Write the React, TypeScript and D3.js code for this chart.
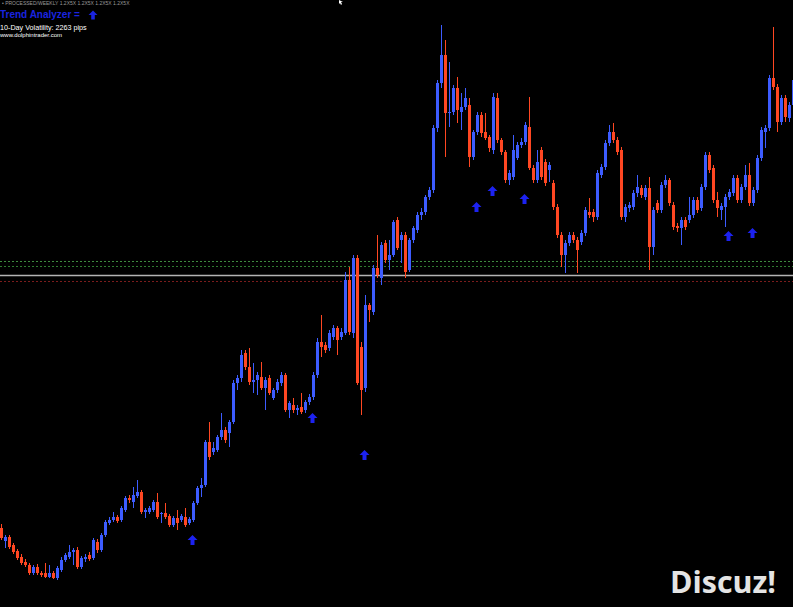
import React from "react";
import * as d3 from "d3";

// Candle data (price units, arbitrary points)
const opens = [
  72,59,63,55,49,43,38,35,27,33,
  27,27,23,27,22,30,40,43,48,50,
  33,41,45,42,58,50,65,77,80,83,
  80,90,102,98,104,108,88,88,90,98,
  86,87,84,75,82,80,83,77,80,97,
  112,115,158,148,150,163,170,167,178,217,
  222,247,233,218,220,223,212,222,202,210,
  217,225,190,195,190,193,190,198,203,225,
  258,255,252,263,272,263,267,320,267,342,
  253,212,295,288,332,322,357,340,345,380,
  360,365,330,360,370,385,388,403,410,472,
  517,545,487,488,512,488,493,495,443,468,
  485,468,463,450,502,460,448,420,423,442,
  455,458,473,432,420,450,438,430,417,393,
  365,345,357,365,360,358,367,388,388,383,
  425,433,457,468,460,450,383,392,393,407,
  412,403,412,353,397,390,415,420,395,374,
  372,380,380,385,400,392,413,445,432,400,
  390,393,403,407,422,400,413,425,397,410,
  442,468,472,522,513,478,502,482,495,
];
const highs = [
  76,65,65,57,51,46,41,37,35,36,
  29,37,35,29,34,43,47,55,52,53,
  44,46,48,62,61,67,80,83,88,85,
  94,104,105,113,120,110,92,94,100,107,
  88,97,86,84,90,86,92,83,99,114,
  122,160,178,158,165,187,173,180,220,225,
  250,250,252,237,228,238,223,225,212,221,
  228,227,199,202,195,207,200,206,228,262,
  285,258,270,275,274,272,328,333,345,345,
  258,305,297,335,365,358,360,360,380,383,
  368,368,362,374,388,392,405,413,475,520,
  575,560,538,515,523,507,512,502,470,488,
  488,487,465,507,507,462,450,430,465,458,
  462,478,503,435,450,453,441,438,420,396,
  368,360,368,368,363,370,393,402,391,430,
  436,460,475,477,463,453,396,398,410,425,
  415,415,423,393,400,418,425,422,398,377,
  383,383,403,403,403,416,448,448,435,408,
  397,406,411,425,425,416,435,437,413,445,
  473,475,525,573,516,505,505,498,525,
];
const lows = [
  60,52,51,46,40,35,33,25,25,25,
  23,22,22,21,20,28,38,41,35,31,
  31,38,39,40,47,48,63,75,78,77,
  78,88,97,92,102,86,82,86,88,81,
  77,81,73,73,70,78,73,75,78,95,
  103,113,140,145,148,160,157,153,176,210,
  218,230,215,207,205,210,190,205,200,207,
  214,188,182,187,185,186,187,195,200,222,
  243,247,249,260,245,260,265,265,262,215,
  185,208,278,285,322,315,337,330,343,350,
  337,322,328,357,367,380,385,400,407,468,
  512,443,473,485,477,470,490,433,440,465,
  463,460,448,446,457,445,417,415,420,440,
  452,455,430,417,417,420,414,418,390,362,
  333,327,354,357,327,355,364,382,378,380,
  422,430,454,457,445,380,378,388,390,403,
  402,400,330,345,387,387,412,394,370,368,
  355,370,377,382,387,389,410,427,397,383,
  380,373,400,404,397,397,410,394,394,407,
  439,452,469,510,468,475,478,478,492,
];
const closes = [
  62,63,53,48,42,37,35,27,33,27,
  25,23,27,22,32,40,45,48,50,33,
  42,43,41,60,50,65,78,80,83,79,
  92,102,100,105,108,88,90,92,98,83,
  87,83,75,82,77,84,75,81,97,112,
  115,158,143,152,163,170,160,178,217,222,
  245,233,218,220,225,212,220,207,210,218,
  225,190,197,190,192,188,198,203,225,258,
  253,250,267,272,260,268,320,268,342,217,
  210,295,290,332,325,355,340,345,378,352,
  365,328,360,372,385,388,403,410,472,517,
  545,487,488,512,490,493,502,443,468,485,
  467,462,452,503,460,448,420,427,450,455,
  458,475,432,420,438,423,417,435,393,365,
  345,357,365,360,350,367,390,385,383,427,
  433,457,468,460,448,383,393,395,407,413,
  405,412,353,390,390,415,420,397,373,372,
  380,373,385,400,390,413,445,430,400,392,
  394,403,408,422,400,413,425,397,410,442,
  470,472,522,513,478,502,483,495,520,
];

// Buy-signal arrows: candle index and price level
const arrowIndex = [48, 78, 91, 119, 123, 131, 182, 188];
const arrowPrice = [60, 182, 145, 393, 409, 401, 364, 367];

// Horizontal levels
const levelPrices = [339, 334, 325, 319];
const levelColors = ["#3f8a3f", "#2f7a2f", "#b4b4b4", "#7a1c1c"];
const levelDash = ["2,2", "2,2", "", "2,2"];

const headerLines = [
  "• PROCESSED/WEEKLY   1.2X5X   1.2X5X   1.2X5X   1.2X5X",
  "Trend Analyzer = ",
  "10-Day Volatility: 2263 pips",
  "www.dolphintrader.com",
];

const W = 793;
const H = 607;
const BULL = "#3d5cff";
const BEAR = "#ff4722";

export default function App() {
  const n = closes.length;
  const x = d3.scaleLinear().domain([0, 198]).range([1, 793]);
  const y = d3.scaleLinear().domain([0, 600]).range([600, 0]);
  const arrowPath = "M0,-5 L5,0 L2,0 L2,5 L-2,5 L-2,0 L-5,0 Z";

  return (
    <svg
      width={W}
      height={H}
      style={{ position: "fixed", left: 0, top: 0, display: "block" }}
    >
      <rect x={0} y={0} width={W} height={H} fill="#000" />
      {levelPrices.map((p, k) => (
        <line
          key={"lv" + k}
          x1={0}
          x2={W}
          y1={Math.round(y(p)) + 0.5}
          y2={Math.round(y(p)) + 0.5}
          stroke={levelColors[k]}
          strokeWidth={k === 2 ? 1.5 : 1}
          strokeDasharray={levelDash[k] || undefined}
        />
      ))}
      {d3.range(n).map((i) => {
        const o = opens[i];
        const c = closes[i];
        const cx = Math.round(x(i));
        const col = c >= o ? BULL : BEAR;
        const top = y(Math.max(o, c));
        const bot = y(Math.min(o, c));
        return (
          <g key={i}>
            <line
              x1={cx + 0.5}
              x2={cx + 0.5}
              y1={y(highs[i])}
              y2={y(lows[i])}
              stroke={col}
              strokeWidth={1}
            />
            <rect
              x={cx - 1}
              y={top}
              width={3}
              height={Math.max(1, bot - top)}
              fill={col}
            />
          </g>
        );
      })}
      {arrowIndex.map((ai, k) => (
        <path
          key={"ar" + k}
          d={arrowPath}
          transform={`translate(${Math.round(x(ai)) - 0.5},${y(arrowPrice[k])})`}
          fill="#1c22f0"
        />
      ))}
      <text x={2} y={5} fontFamily="Liberation Sans, Arial" fontSize={5} fill="#9a9a9a">
        {headerLines[0]}
      </text>
      <text
        x={0}
        y={18}
        fontFamily="Liberation Sans, Arial"
        fontSize={10}
        fontWeight="bold"
        fill="#1a24e0"
      >
        {headerLines[1]}
      </text>
      <path d={arrowPath} transform="translate(93,15) scale(0.9)" fill="#1a24e0" />
      <text x={0} y={30} fontFamily="Liberation Sans, Arial" fontSize={7.2} fill="#ffffff">
        {headerLines[2]}
      </text>
      <text x={0} y={37} fontFamily="Liberation Sans, Arial" fontSize={6} fill="#ffffff">
        {headerLines[3]}
      </text>
      <path d="M339,0 L339,4 L340,3 L341,5 L342,4 L341,2 L343,2 Z" fill="#ffffff" />
      <text
        x={670}
        y={593}
        fontFamily="Open Sans, DejaVu Sans, sans-serif"
        fontSize={31}
        fontWeight="bold"
        fill="#e4e4e4"
        textLength={106}
        lengthAdjust="spacingAndGlyphs"
      >
        Discuz!
      </text>
    </svg>
  );
}
